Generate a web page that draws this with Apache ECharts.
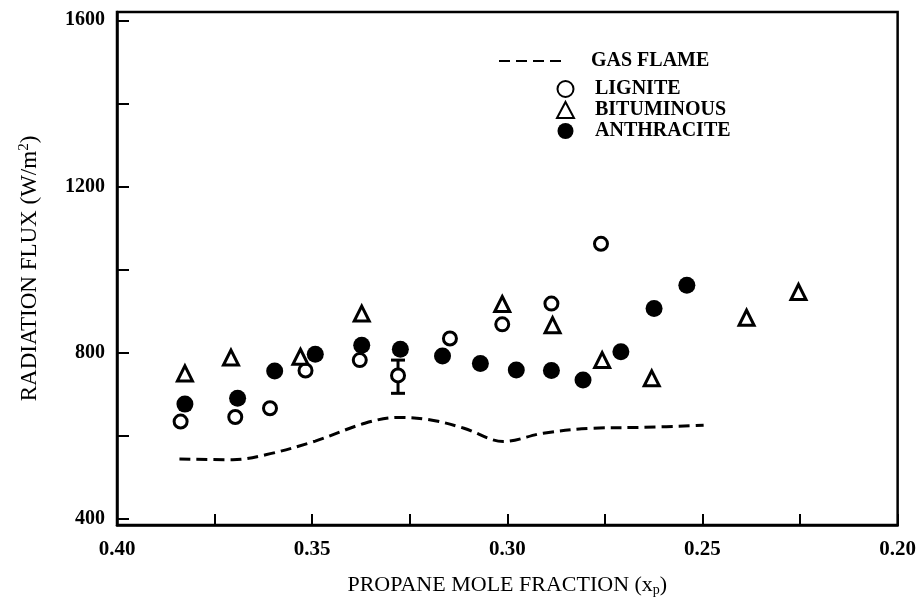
<!DOCTYPE html>
<html>
<head>
<meta charset="utf-8">
<script src="https://cdn.jsdelivr.net/npm/echarts@6/dist/echarts.min.js"></script>
<style>html,body{margin:0;padding:0;background:#fff;}#c{width:919px;height:602px;}</style>
</head>
<body>
<div id="c"></div>
<script>
// ---- data ----
var ligniteX = [0.3837, 0.3697, 0.3608, 0.3517, 0.3378, 0.328, 0.3147, 0.3013, 0.2887, 0.276];
var ligniteY = [634, 645, 666, 757, 782, 745, 834, 868, 918, 1062];
var bituminousX = [0.3826, 0.3708, 0.353, 0.3373, 0.3013, 0.2884, 0.2757, 0.263, 0.2387, 0.2254];
var bituminousY = [750, 788, 790, 894, 917, 866, 782, 738, 884, 946];
var anthraciteX = [0.3826, 0.3691, 0.3596, 0.3492, 0.3373, 0.3274, 0.3166, 0.3069, 0.2977, 0.2887, 0.2806, 0.2709, 0.2624, 0.254];
var anthraciteY = [676, 690, 756, 796, 818, 808, 792, 774, 758, 757, 734, 802, 906, 962];
var gasX = [0.384, 0.3704, 0.3619, 0.3492, 0.3365, 0.328, 0.3196, 0.3111, 0.301, 0.2908, 0.278, 0.2654, 0.2497];
var gasY = [544, 542, 554, 587, 630, 644, 638, 618, 586, 606, 618, 620, 625];
var errX = [0.328];
var errLow = [702];
var errHigh = [782];
var yTickValues = [400, 600, 800, 1000, 1200, 1400, 1600];
var yLabelValues = [400, 800, 1200, 1600];
var xLabelValues = [0.40, 0.35, 0.30, 0.25, 0.20];

function zip(a, b) { return a.map(function (v, i) { return [v, b[i]]; }); }

var serif = 'Liberation Serif';
var chart = echarts.init(document.getElementById('c'));
chart.setOption({
  animation: false,
  backgroundColor: '#fff',
  grid: { left: 117, right: 13, top: 12, bottom: 75, show: true, borderColor: '#000', borderWidth: 2.5, backgroundColor: 'transparent' },
  xAxis: {
    type: 'value', min: 0.2, max: 0.4, interval: 0.025, inverse: true,
    axisLine: { lineStyle: { color: '#000', width: 2.5 } },
    axisTick: { inside: true, length: 11, lineStyle: { color: '#000', width: 2 } },
    splitLine: { show: false },
    axisLabel: { customValues: xLabelValues, margin: 14, color: '#000', fontFamily: serif, fontWeight: 'bold', fontSize: 21,
      formatter: function (v) { return v.toFixed(2); } },
    name: 'PROPANE MOLE FRACTION (x{sub|p})',
    nameLocation: 'middle', nameGap: 48,
    nameTextStyle: { color: '#000', fontFamily: serif, fontSize: 22,
      rich: { sub: { fontFamily: serif, fontSize: 14, verticalAlign: 'bottom', padding: [10, 0, 0, 0], color: '#000' } } }
  },
  yAxis: {
    type: 'value', min: 385, max: 1620,
    axisLine: { lineStyle: { color: '#000', width: 2.5 } },
    axisTick: { inside: true, length: 12, customValues: yTickValues, lineStyle: { color: '#000', width: 2 } },
    splitLine: { show: false },
    axisLabel: { customValues: yLabelValues, margin: 12, color: '#000', fontFamily: serif, fontWeight: 'bold', fontSize: 20,
      formatter: function (v) { return String(v); } },
    name: 'RADIATION FLUX (W/m{sup|2})',
    nameLocation: 'middle', nameGap: 75, nameRotate: 90,
    nameTextStyle: { color: '#000', fontFamily: serif, fontSize: 23,
      rich: { sup: { fontFamily: serif, fontSize: 15, verticalAlign: 'top', padding: [0, 0, 10, 0], color: '#000' } } }
  },
  legend: [
    {
      data: ['GAS FLAME'], left: 493, top: 46, itemWidth: 67, itemHeight: 14,
      itemStyle: { opacity: 0 },
      textStyle: { color: '#000', fontFamily: serif, fontWeight: 'bold', fontSize: 20, padding: [12, 0, 0, 20] }
    },
    {
      data: ['LIGNITE', 'BITUMINOUS', 'ANTHRACITE'], orient: 'vertical', left: 551, top: 74,
      itemWidth: 17, itemHeight: 16, itemGap: 1,
      textStyle: { color: '#000', fontFamily: serif, fontWeight: 'bold', fontSize: 20, lineHeight: 20, padding: [0, 0, 0, 16] }
    }
  ],
  series: [
    {
      name: 'GAS FLAME', type: 'line', data: zip(gasX, gasY), smooth: 0.35, symbol: 'none',
      lineStyle: { color: '#000', width: 3, type: [11, 6] }, itemStyle: { color: '#000' }
    },
    {
      name: 'LIGNITE', type: 'scatter', data: zip(ligniteX, ligniteY), symbol: 'circle', symbolSize: 13,
      itemStyle: { color: '#fff', borderColor: '#000', borderWidth: 3, opacity: 1 }
    },
    {
      name: 'BITUMINOUS', type: 'scatter', data: zip(bituminousX, bituminousY), symbol: 'triangle', symbolSize: 15,
      itemStyle: { color: '#fff', borderColor: '#000', borderWidth: 3, opacity: 1 }
    },
    {
      name: 'ANTHRACITE', type: 'scatter', data: zip(anthraciteX, anthraciteY), symbol: 'circle', symbolSize: 17,
      itemStyle: { color: '#000', opacity: 1 }
    },
    {
      name: 'error', type: 'custom', z: 1,
      data: errX.map(function (x, i) { return [x, errLow[i], errHigh[i]]; }),
      renderItem: function (params, api) {
        var lo = api.coord([api.value(0), api.value(1)]);
        var hi = api.coord([api.value(0), api.value(2)]);
        var w = 7;
        var st = { stroke: '#000', lineWidth: 3 };
        return { type: 'group', children: [
          { type: 'line', shape: { x1: lo[0], y1: lo[1], x2: hi[0], y2: hi[1] }, style: st },
          { type: 'line', shape: { x1: lo[0] - w, y1: lo[1], x2: lo[0] + w, y2: lo[1] }, style: st },
          { type: 'line', shape: { x1: hi[0] - w, y1: hi[1], x2: hi[0] + w, y2: hi[1] }, style: st }
        ] };
      }
    }
  ]
});
</script>
</body>
</html>
